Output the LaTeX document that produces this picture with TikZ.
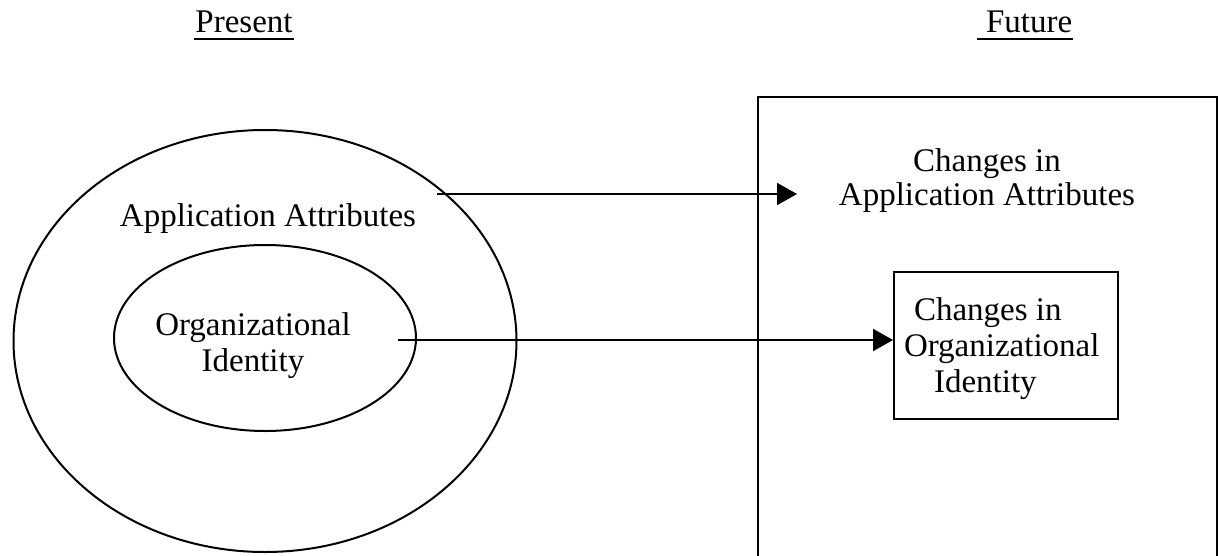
\documentclass[tikz,border=0pt]{standalone}
\usepackage{fontspec}
\setmainfont{Liberation Serif}
\usetikzlibrary{arrows.meta,shapes.geometric}
\begin{document}
\begin{tikzpicture}[x=0.5pt,y=-0.5pt,line width=1pt,
  txt/.style={font=\fontsize{16.5}{16}\selectfont,inner sep=0pt},
  head/.style={txt},
  oval/.style={draw,ellipse,inner sep=0pt},
  arr/.style={-{Triangle[length=10pt,width=11pt]},line width=1pt},
  ul/.style={line width=0.8pt}]
\useasboundingbox (0,0) rectangle (1220,556);
% headings
\node[head,anchor=base] (pres) at (244,33) {Present};
\draw[ul] ([yshift=-3pt]pres.base west) -- ([yshift=-3pt]pres.base east);
\node[head,anchor=base west] (fut) at (985,33) {Future};
\coordinate (futul) at (977,33);
\draw[ul] ([yshift=-3pt]futul) -- ([yshift=-3pt]fut.base east);
% left: ellipses
\node[oval,minimum width=251.5pt,minimum height=211pt] (outer) at (265,341) {};
\node[oval,minimum width=151pt,minimum height=93pt] (inner) at (265,338) {};
\node[txt] (aa) at (268,219) {Application Attributes};
\node[txt,align=center,font=\fontsize{16.5}{18}\selectfont] (oi) at (253,346) {Organizational\\Identity};
% right: box
\draw (758,556) |- (1217,97) -- (1217,556);
\node[txt,align=center,font=\fontsize{16.5}{17}\selectfont] (caa) at (987,181) {Changes in\\Application Attributes};
\node[draw,minimum width=112pt,minimum height=73.5pt,inner sep=0pt] (cbox) at (1006,345.5) {};
\node[txt,align=left,anchor=west,font=\fontsize{16.5}{18}\selectfont] (coi) at (903,349) {\hspace{5pt}Changes in\\Organizational\\\hspace{15pt}Identity};
% arrows
\coordinate (a1s) at (437,194);
\coordinate (a1e) at (797,194);
\coordinate (a2s) at (398,340);
\draw[arr] (a1s) -- (a1e);
\draw[arr] (a2s) -- (a2s -| cbox.west);
\end{tikzpicture}
\end{document}
